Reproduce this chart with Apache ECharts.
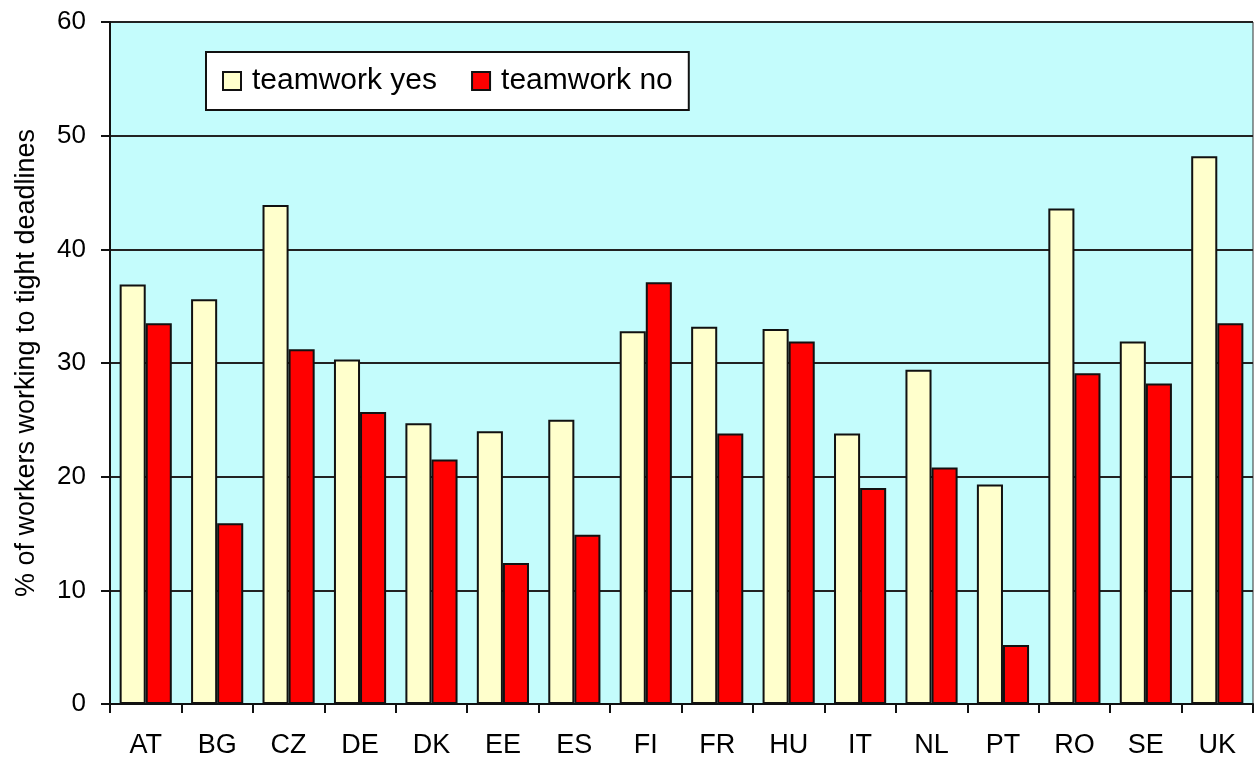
<!DOCTYPE html>
<html>
<head>
<meta charset="utf-8">
<title>teamwork and tight deadlines</title>
<script src="https://cdn.jsdelivr.net/npm/echarts@6/dist/echarts.min.js"></script>
<style>
  html, body { margin: 0; padding: 0; background: #fff; }
  #chart { width: 1255px; height: 762px; }
</style>
</head>
<body>
<div id="chart"></div>
<script>
var countries = ["AT", "BG", "CZ", "DE", "DK", "EE", "ES", "FI", "FR", "HU", "IT", "NL", "PT", "RO", "SE", "UK"];
var teamworkYes = [36.9, 35.6, 43.9, 30.3, 24.7, 24.0, 25.0, 32.8, 33.2, 33.0, 23.8, 29.4, 19.3, 43.6, 31.9, 48.2];
var teamworkNo = [33.5, 15.9, 31.2, 25.7, 21.5, 12.4, 14.9, 37.1, 23.8, 31.9, 19.0, 20.8, 5.2, 29.1, 28.2, 33.5];
var seriesNames = ["teamwork yes", "teamwork no"];
var yTicks = { min: 0, max: 60, interval: 10 };

var font = "'Liberation Sans', Arial, sans-serif";

var myChart = echarts.init(document.getElementById("chart"));

var option = {
  backgroundColor: "#fff",
  animation: false,
  grid: {
    left: 110,
    right: 2,
    top: 22,
    bottom: 58,
    show: true,
    backgroundColor: "#c4fcfc",
    borderColor: "#333",
    borderWidth: 1,
  },
  legend: {
    left: 206,
    top: 52,
    orient: "horizontal",
    backgroundColor: "#fff",
    borderColor: "#111",
    borderWidth: 2,
    padding: [13, 16, 13, 16],
    itemWidth: 18,
    itemHeight: 18,
    itemGap: 34,
    icon: "rect",
    itemStyle: { borderColor: "#111", borderWidth: 2 },
    textStyle: { fontFamily: font, fontSize: 30, lineHeight: 32, color: "#000", padding: [0, 0, 0, 6] },
    data: seriesNames,
  },
  xAxis: {
    type: "category",
    data: countries,
    axisLine: { show: true, lineStyle: { color: "#111", width: 2 } },
    axisTick: { show: true, alignWithLabel: false, length: 9, lineStyle: { color: "#111", width: 2 } },
    axisLabel: { color: "#000", fontFamily: font, fontSize: 27, margin: 28 },
    splitLine: { show: false },
  },
  yAxis: {
    type: "value",
    min: yTicks.min,
    max: yTicks.max,
    interval: yTicks.interval,
    name: "% of workers working to tight deadlines",
    nameLocation: "middle",
    nameGap: 70,
    nameTextStyle: { fontFamily: font, fontSize: 27, color: "#000" },
    axisLine: { show: true, lineStyle: { color: "#111", width: 2 } },
    axisTick: { show: true, inside: false, length: 9, lineStyle: { color: "#111", width: 2 } },
    axisLabel: { color: "#000", fontFamily: font, fontSize: 26, margin: 24 },
    splitLine: { show: true, lineStyle: { color: "#222", width: 2 } },
  },
  series: [
    {
      name: seriesNames[0],
      type: "bar",
      data: teamworkYes,
      barGap: "0%",
      barCategoryGap: "27%",
      itemStyle: { color: "#ffffcc", borderColor: "#111", borderWidth: 2 },
    },
    {
      name: seriesNames[1],
      type: "bar",
      data: teamworkNo,
      barGap: "0%",
      barCategoryGap: "27%",
      itemStyle: { color: "#ff0000", borderColor: "#111", borderWidth: 2 },
    },
  ],
};

myChart.setOption(option);
</script>
</body>
</html>
